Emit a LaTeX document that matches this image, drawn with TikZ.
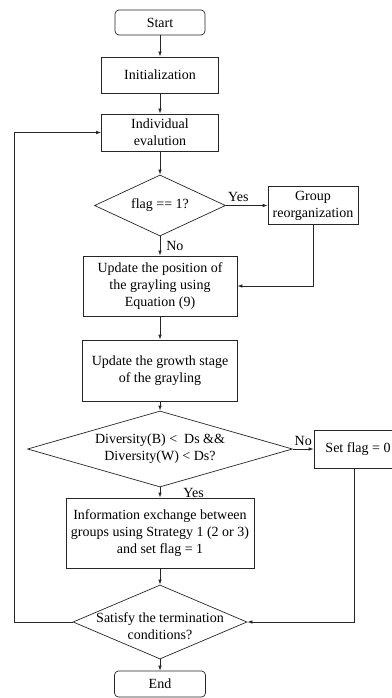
\documentclass[tikz,border=0pt]{standalone}
\usepackage{fontspec}
\setmainfont{Liberation Serif}
\usetikzlibrary{shapes.geometric,arrows.meta}
\tikzset{
    term-box/.style = {draw, rectangle, rounded corners=4pt, minimum width=90pt, minimum height=25pt, inner sep=2pt},
    proc-box/.style = {draw, rectangle, align=center, inner sep=2pt},
    test-box/.style = {draw, diamond, align=center, inner sep=0pt},
    flow-line/.style = {-{Latex[length=5pt,width=3.5pt]}},
    flow-label/.style = {inner sep=1pt},
}

\begin{document}
\begin{tikzpicture}[x=1pt, y=-1pt, line width=0.7pt, draw=black!85, font=\fontsize{14}{17}\selectfont]
\useasboundingbox (0,0) rectangle (391,698);

% main column
\node[term-box] (start) at (160,22.5) {Start};
\node[proc-box, minimum width=117pt, minimum height=36pt] (init) at (160,75) {Initialization};
\node[proc-box, minimum width=117pt, minimum height=37pt] (eval) at (160,132.5) {Individual\\evalution};
\node[test-box, shape aspect=2.15, minimum width=131pt, minimum height=61pt] (flag) at (160,205.5) {flag == 1?};
\node[proc-box, minimum width=90pt, minimum height=38pt] (regroup) at (313,205.5) {Group\\reorganization};
\node[proc-box, minimum width=154pt, minimum height=60pt] (position) at (160,286) {Update the position of\\the grayling using\\Equation (9)};
\node[proc-box, minimum width=155pt, minimum height=61pt] (growth) at (160,370.5) {Update the growth stage\\of the grayling};
\node[test-box, shape aspect=3.5, minimum width=265pt, minimum height=76pt] (diversity) at (160,449) {Diversity(B) <\ \ Ds \&\&\\Diversity(W) < Ds?};
\node[proc-box, minimum width=88pt, minimum height=38pt] (setflag) at (358,449) {Set flag = 0};
\node[proc-box, minimum width=188pt, minimum height=70pt] (exchange) at (160,533) {Information exchange between\\groups using Strategy 1 (2 or 3)\\and set flag = 1};
\node[test-box, shape aspect=2.35, inner xsep=-22pt, minimum width=174pt, minimum height=74pt] (satisfy) at (160,622)
    {\raisebox{-9pt}[0pt][0pt]{\begin{tabular}{@{}c@{}}Satisfy the termination\\conditions?\end{tabular}}};
\node[term-box, minimum width=91pt, minimum height=26pt] (end) at (160,684) {End};

% connectors
\draw[flow-line] (start) -- (init);
\draw[flow-line] (init) -- (eval);
\draw[flow-line] (eval) -- (flag);
\draw[flow-line] (flag) -- node[flow-label, right=5pt]{No} (position);
\draw[flow-line] (flag) -- node[flow-label, above=3pt, pos=0.3]{Yes} (regroup);
\draw[flow-line] (regroup.south) |- (position.east);
\draw[flow-line] (position) -- (growth);
\draw[flow-line] (growth) -- (diversity);
\draw[flow-line] (diversity) -- node[flow-label, above=2pt]{No} (setflag);
\draw[flow-line] (diversity) -- node[flow-label, right=22pt]{Yes} (exchange);
\draw[flow-line] (exchange) -- (satisfy);
\draw[flow-line] ([xshift=-4pt]setflag.south) |- (satisfy.east);
\draw[flow-line] (satisfy.west) -- ++(-58,0) |- (eval.west);
\draw[flow-line] (satisfy) -- (end);
\end{tikzpicture}
\end{document}
